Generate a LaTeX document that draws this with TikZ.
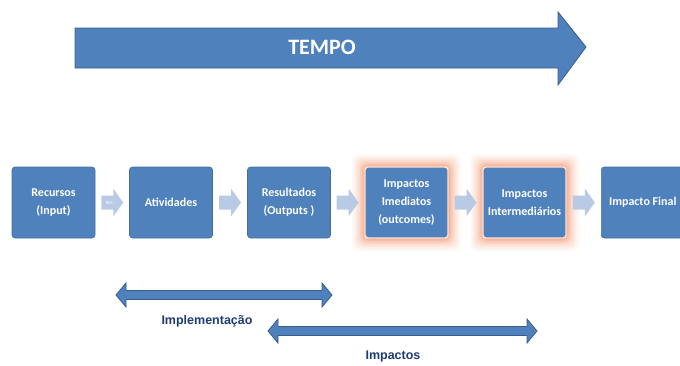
\documentclass[tikz,border=0pt]{standalone}
\usepackage{fontspec}
\usetikzlibrary{calc}
\setmainfont{Carlito}
\newfontfamily\labfont{Liberation Sans}
\definecolor{boxblue}{HTML}{4F81BD}
\definecolor{boxedge}{HTML}{41709F}
\definecolor{arrowedge}{HTML}{385D8A}
\definecolor{chev}{HTML}{B9CBE4}
\definecolor{glow}{HTML}{F4A27E}
\definecolor{labblue}{HTML}{1F3B73}
\tikzset{
  stagebox/.style={draw=boxedge, line width=0.6pt, fill=boxblue, rounded corners=3pt,
    minimum width=83pt, minimum height=71pt, inner sep=2pt,
    text=white, font=\bfseries\fontsize{12}{18}\selectfont, align=center},
  hilite/.style={draw=white!70!glow, line width=1.4pt},
  bluearrow/.style={fill=boxblue, draw=arrowedge, line width=0.8pt, line join=miter},
  chevarrow/.style={fill=chev, draw=none},
  barlabel/.style={text=labblue, font=\labfont\bfseries\fontsize{12.5}{14}\selectfont}
}
\begin{document}
\begin{tikzpicture}[x=1pt,y=-1pt]
\useasboundingbox (0,0) rectangle (680,365);
% glow for highlighted boxes
\foreach \cx in {406.5,524.5}{
  \foreach \e/\o in {13/0.07,11/0.09,9/0.12,7/0.17,5/0.25,3/0.35,1.5/0.5}{
    \fill[glow, opacity=\o, rounded corners=7pt] (\cx-41.5-\e,167-\e) rectangle (\cx+41.5+\e,238+\e);
  }
}
% TEMPO arrow
\draw[bluearrow] (75,28) -- (558,28) -- (558,12) -- (586,47) -- (558,85) -- (558,68) -- (75,68) -- cycle;
\node[text=white, font=\fontsize{22}{24}\selectfont\bfseries] (tempo) at (322,47) {TEMPO};
% stage boxes
\node[stagebox] (rec) at (53.5,202.5) {Recursos\\(Input)};
\node[stagebox] (ati) at (171,202.5) {Atividades};
\node[stagebox] (res) at (289,202.5) {Resultados\\(Outputs )};
\node[stagebox, hilite] (ime) at (406.5,202.5) {Impactos\\Imediatos\\(outcomes)};
\node[stagebox, hilite] (int) at (524.5,202.5) {Impactos\\Intermediários};
\node[stagebox, anchor=west] (fin) at (601,202.5) {Impacto Final};
% chevron arrows between boxes
\foreach \a/\b [count=\i] in {rec/ati,ati/res,res/ime,ime/int,int/fin}{
  \path ($(\a.east)!0.5!(\b.west)$) coordinate (m\i);
  \fill[chevarrow] ([shift={(-11,-7)}]m\i) -- ([shift={(1,-7)}]m\i) -- ([shift={(1,-14)}]m\i)
     -- ([shift={(11,0)}]m\i) -- ([shift={(1,14)}]m\i) -- ([shift={(1,7)}]m\i)
     -- ([shift={(-11,7)}]m\i) -- cycle;
}
\node[text=white, font=\fontsize{5}{6}\selectfont] (ties) at ([xshift=-3]m1) {ties};
% double arrows
\draw[bluearrow] (116,295) -- (126,283) -- (126,290.5) -- (322,290.5) -- (322,283) -- (332,295)
  -- (322,307) -- (322,299.5) -- (126,299.5) -- (126,307) -- cycle;
\node[barlabel] (impl) at (207,321) {Implementação};
\draw[bluearrow] (268,331) -- (278,319) -- (278,326.5) -- (527,326.5) -- (527,319) -- (537,331)
  -- (527,343) -- (527,335.5) -- (278,335.5) -- (278,343) -- cycle;
\node[barlabel] (imp) at (393,356) {Impactos};
\end{tikzpicture}
\end{document}
